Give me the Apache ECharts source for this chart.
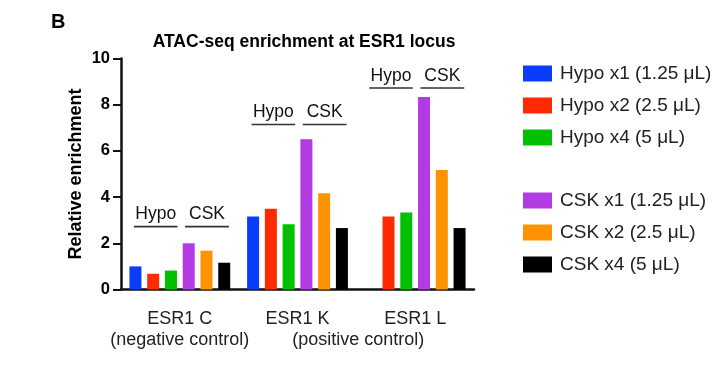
<!DOCTYPE html>
<html>
<head>
<meta charset="utf-8">
<script src="https://cdn.jsdelivr.net/npm/echarts@6/dist/echarts.min.js"></script>
<style>
html,body{margin:0;padding:0;background:#fff;}
#chart{width:725px;height:366px;}
</style>
</head>
<body>
<div id="chart"></div>
<script>
var categories = ['ESR1 C\n(negative control)', 'ESR1 K', 'ESR1 L'];
var seriesNames = ['Hypo x1 (1.25 \u03bcL)', 'Hypo x2 (2.5 \u03bcL)', 'Hypo x4 (5 \u03bcL)',
                   'CSK x1 (1.25 \u03bcL)', 'CSK x2 (2.5 \u03bcL)', 'CSK x4 (5 \u03bcL)'];
var hypoX1 = [1.0, 3.16, null];
var hypoX2 = [0.68, 3.5, 3.16];
var hypoX4 = [0.82, 2.83, 3.33];
var cskX1 = [2.0, 6.5, 8.33];
var cskX2 = [1.68, 4.17, 5.17];
var cskX4 = [1.16, 2.66, 2.66];
var yTicks = [0, 2, 4, 6, 8, 10];
var groupLabelLevels = [2.72, 7.14, 8.72];
var groupLabels = ['Hypo', 'CSK'];
var sharedNote = '(positive control)';
var sharedNoteCats = [1, 2];

var colors = ['#0a3cfc', '#ff2a00', '#00c000', '#b23be4', '#ff9200', '#000000'];
var values = [hypoX1, hypoX2, hypoX4, cskX1, cskX2, cskX4];
var FONT = '"Liberation Sans", Arial, sans-serif';

var series = values.map(function (v, i) {
  return {
    name: seriesNames[i],
    type: 'bar',
    data: v,
    barWidth: 12,
    barGap: '48%',
    itemStyle: { color: colors[i] },
    emphasis: { disabled: true },
    animation: false
  };
});

series.push({
  type: 'custom',
  name: 'groupLabels',
  data: groupLabelLevels.map(function (lv, i) { return [i, lv]; }),
  encode: { x: 0, y: 1 },
  clip: false,
  silent: true,
  animation: false,
  renderItem: function (params, api) {
    var p = api.coord([api.value(0), api.value(1)]);
    var bw = api.size([1, 0])[0];
    var hx0 = p[0] - bw * 0.39, hx1 = p[0] - bw * 0.02;
    var cx0 = p[0] + bw * 0.045, cx1 = p[0] + bw * 0.417;
    var ls = { stroke: '#333', lineWidth: 1.6 };
    var ts = function (t, x) {
      return { type: 'text', style: { text: t, x: x, y: p[1] - 3, textAlign: 'center', textVerticalAlign: 'bottom',
        font: '17.5px ' + FONT, fill: '#111' } };
    };
    return {
      type: 'group',
      children: [
        { type: 'line', shape: { x1: hx0, y1: p[1], x2: hx1, y2: p[1] }, style: ls },
        { type: 'line', shape: { x1: cx0, y1: p[1], x2: cx1, y2: p[1] }, style: ls },
        ts(groupLabels[0], (hx0 + hx1) / 2),
        ts(groupLabels[1], (cx0 + cx1) / 2)
      ]
    };
  }
});

series.push({
  type: 'custom',
  name: 'sharedNote',
  data: [[sharedNoteCats[0], 0, sharedNoteCats[1]]],
  encode: { x: 0, y: 1 },
  clip: false,
  silent: true,
  animation: false,
  renderItem: function (params, api) {
    var p1 = api.coord([api.value(0), 0]);
    var p2 = api.coord([api.value(2), 0]);
    return {
      type: 'text',
      style: { text: sharedNote, x: (p1[0] + p2[0]) / 2 + 2, y: p1[1] + 51, textAlign: 'center', textVerticalAlign: 'middle',
        font: '18px ' + FONT, fill: '#222' }
    };
  }
});

var chart = echarts.init(document.getElementById('chart'), null, { renderer: 'canvas' });
chart.setOption({
  backgroundColor: '#fff',
  animation: false,
  title: [
    { text: 'ATAC-seq enrichment at ESR1 locus', left: 304, top: 33, textAlign: 'center',
      textStyle: { fontFamily: FONT, fontWeight: 'bold', fontSize: 17.5, color: '#000' }, padding: 0 },
    { text: 'B', left: 51, top: 12, padding: 0,
      textStyle: { fontFamily: FONT, fontWeight: 'bold', fontSize: 20, color: '#000' } }
  ],
  legend: [
    { data: seriesNames.slice(0, 3), orient: 'vertical', left: 523, top: 64, itemWidth: 29, itemHeight: 16,
      itemGap: 13, icon: 'rect', selectedMode: false, padding: 0,
      textStyle: { fontFamily: FONT, fontSize: 19, color: '#222', padding: [0, 0, 0, 3] } },
    { data: seriesNames.slice(3), orient: 'vertical', left: 523, top: 191, itemWidth: 29, itemHeight: 16,
      itemGap: 13, icon: 'rect', selectedMode: false, padding: 0,
      textStyle: { fontFamily: FONT, fontSize: 19, color: '#222', padding: [0, 0, 0, 3] } }
  ],
  grid: { left: 121, right: 251, top: 58.5, bottom: 76.5, containLabel: false },
  xAxis: {
    type: 'category',
    data: categories,
    axisLine: { lineStyle: { color: '#111', width: 2.5 } },
    axisTick: { alignWithLabel: true, interval: 0, length: 8, lineStyle: { color: '#111', width: 2 } },
    axisLabel: { interval: 0, margin: 19, fontFamily: FONT, fontSize: 18, color: '#222', lineHeight: 21 }
  },
  yAxis: {
    type: 'value',
    min: yTicks[0],
    max: yTicks[yTicks.length - 1],
    interval: yTicks[1] - yTicks[0],
    name: 'Relative enrichment',
    nameLocation: 'middle',
    nameGap: 36,
    nameTextStyle: { fontFamily: FONT, fontWeight: 'bold', fontSize: 18, color: '#000' },
    splitLine: { show: false },
    axisLine: { show: true, lineStyle: { color: '#111', width: 2.5 } },
    axisTick: { show: true, length: 8, lineStyle: { color: '#111', width: 2 } },
    axisLabel: { margin: 11, fontFamily: FONT, fontWeight: 'bold', fontSize: 16.5, color: '#000' }
  },
  series: series
});
</script>
</body>
</html>
